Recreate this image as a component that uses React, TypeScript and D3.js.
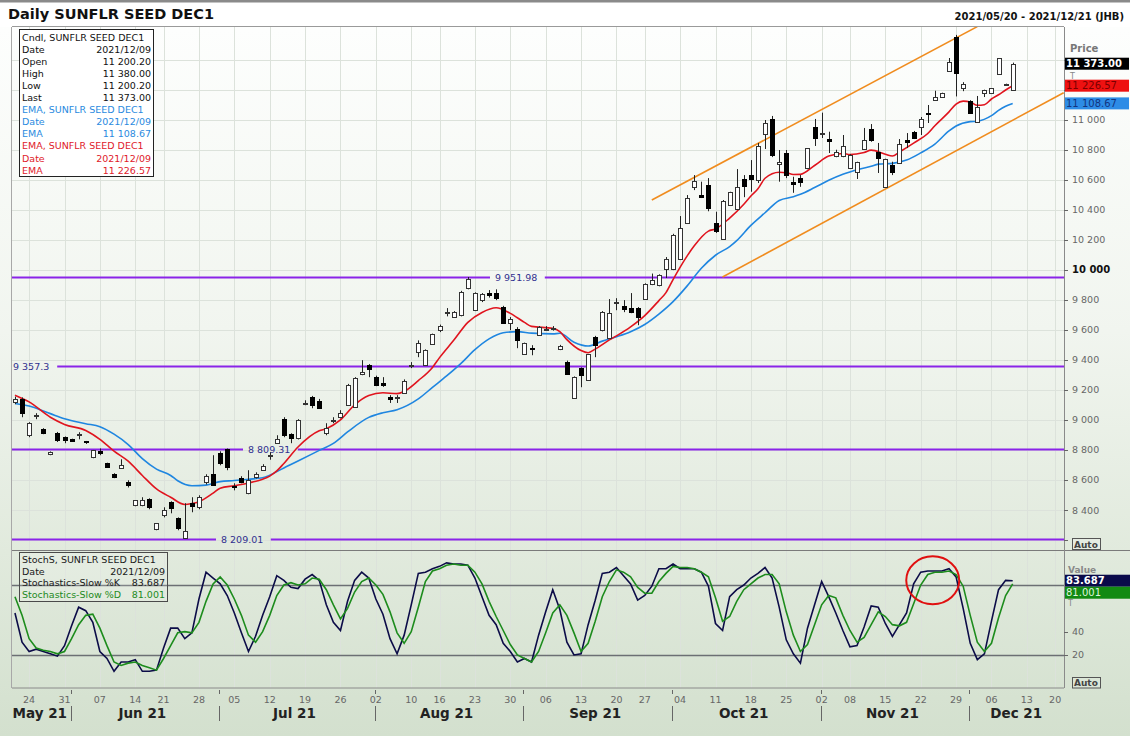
import React from 'react';
import * as d3 from 'd3';

// ---------- DATA ----------
const FIRST_DAY = '2021-05-20';
const AXIS_LAST_DAY = '2021-12-21';
const HOLIDAYS = ['2021-06-16', '2021-08-09', '2021-09-24', '2021-11-01', '2021-12-16'];
const LAST_DATE_LABEL = '2021/12/09';
const TITLE = 'Daily SUNFLR SEED DEC1';
const RANGE_LABEL = '2021/05/20 - 2021/12/21 (JHB)';

const opens = [
  9118, 9140, 8898, 9025, 8938, 8771, 8913, 8885, 8871, 8900,
  8860, 8751, 8791, 8711, 8638, 8678, 8585, 8431, 8431, 8471,
  8271, 8365, 8451, 8345, 8211, 8445, 8418, 8585, 8638, 8778,
  8805, 8560, 8611, 8511, 8618, 8665, 8760, 8845, 9005, 8905,
  8878, 9110, 9151, 9127, 8911, 8998, 9018, 9098, 9085, 9305,
  9365, 9287, 9245, 9151, 9145, 9180, 9360, 9451, 9365, 9505,
  9598, 9718, 9687, 9698, 9876, 9731, 9798, 9845, 9845, 9753,
  9645, 9605, 9438, 9480, 9565, 9605, 9610, 9471, 9387, 9149,
  9345, 9265, 9551, 9598, 9545, 9785, 9758, 9745, 9745, 9805,
  9905, 9898, 10005, 10005, 10071, 10311, 10553, 10498, 10565, 10311,
  10205, 10431, 10405, 10605, 10631, 10598, 10905, 11005, 10705, 10780,
  10587, 10611, 10678, 10951, 10905, 10871, 10758, 10758, 10678, 10653,
  10805, 10938, 10787, 10553, 10698, 10713, 10865, 10920, 10953, 11047,
  11131, 11151, 11327, 11551, 11211, 11125, 10985, 11180, 11180, 11305,
  11235, 11200.2,
];
const highs = [
  9155, 9150, 8985, 9045, 8945, 8790, 8920, 8890, 8875, 8918,
  8860, 8800, 8810, 8715, 8645, 8738, 8598, 8465, 8485, 8478,
  8311, 8418, 8458, 8351, 8445, 8485, 8498, 8638, 8765, 8791,
  8809.31, 8578, 8625, 8665, 8651, 8705, 8785, 8898, 9018, 8911,
  9005, 9131, 9160, 9140, 8978, 9018, 9065, 9240, 9285, 9398,
  9372, 9295, 9285, 9165, 9165, 9270, 9385, 9530, 9470, 9575,
  9635, 9745, 9725, 9860, 9951.98, 9850, 9845, 9865, 9870, 9760,
  9685, 9618, 9515, 9498, 9625, 9625, 9625, 9500, 9395, 9290,
  9350, 9438, 9560, 9725, 9805, 9811, 9798, 9845, 9752, 9910,
  9975, 9970, 10085, 10240, 10358, 10498, 10631, 10587, 10611, 10387,
  10465, 10520, 10671, 10631, 10731, 10845, 10998, 11025, 10798, 10798,
  10620, 10631, 10811, 11005, 11047, 10920, 10800, 10898, 10770, 10720,
  10945, 10971, 10845, 10740, 10720, 10871, 10911, 10925, 11018, 11098,
  11193, 11180, 11411, 11565, 11250, 11130, 11158, 11200, 11211, 11411,
  11240, 11380,
];
const lows = [
  9105, 9018, 8885, 9005, 8905, 8765, 8853, 8845, 8855, 8871,
  8840, 8745, 8765, 8680, 8612, 8675, 8550, 8425, 8425, 8405,
  8265, 8351, 8378, 8265, 8209.01, 8385, 8405, 8570, 8560, 8698,
  8665, 8531, 8578, 8505, 8610, 8660, 8735, 8840, 8885, 8845,
  8870, 9098, 9078, 9075, 8898, 8978, 9010, 9095, 9080, 9298,
  9285, 9225, 9220, 9113, 9113, 9175, 9345, 9418, 9360, 9500,
  9585, 9690, 9680, 9690, 9870, 9725, 9785, 9815, 9798, 9640,
  9598, 9478, 9435, 9431, 9560, 9595, 9595, 9465, 9305, 9140,
  9218, 9260, 9418, 9590, 9540, 9731, 9718, 9711, 9631, 9800,
  9898, 9890, 9945, 9998, 10065, 10305, 10531, 10478, 10390, 10245,
  10200, 10425, 10400, 10484, 10520, 10578, 10805, 10751, 10587, 10611,
  10513, 10553, 10670, 10825, 10878, 10778, 10750, 10750, 10675, 10605,
  10800, 10853, 10645, 10550, 10631, 10710, 10811, 10871, 10898, 10978,
  11125, 11145, 11318, 11155, 11190, 11047, 10980, 11151, 11178, 11300,
  11232, 11200.2,
];
const closes = [
  9140, 9045, 8978, 9030, 8911, 8785, 8865, 8865, 8858, 8905,
  8858, 8798, 8778, 8685, 8618, 8698, 8565, 8465, 8465, 8418,
  8311, 8398, 8411, 8278, 8260, 8425, 8485, 8625, 8565, 8711,
  8685, 8558, 8585, 8598, 8638, 8691, 8765, 8871, 8898, 8878,
  8998, 9113, 9098, 9078, 8945, 9000, 9045, 9231, 9278, 9320,
  9338, 9231, 9231, 9138, 9150, 9260, 9365, 9511, 9465, 9571,
  9625, 9722, 9720, 9853, 9940, 9845, 9838, 9831, 9811, 9643,
  9671, 9531, 9513, 9478, 9618, 9608, 9612, 9491, 9309, 9287,
  9298, 9438, 9498, 9720, 9711, 9787, 9738, 9720, 9685, 9905,
  9931, 9965, 10071, 10231, 10278, 10478, 10593, 10484, 10411, 10260,
  10460, 10520, 10553, 10558, 10605, 10825, 10978, 10765, 10720, 10631,
  10571, 10587, 10811, 10878, 10911, 10858, 10787, 10825, 10765, 10720,
  10865, 10865, 10745, 10738, 10653, 10838, 10853, 10878, 11005, 11038,
  11151, 11178, 11385, 11313, 11238, 11047, 11087, 11198, 11211, 11411,
  11238, 11373,
];

// EMA readings [trading-day index, value]
const emaRed = [
  [0, 9165], [2, 9120], [5, 9018], [7, 8970], [10, 8930], [12, 8871], [14, 8792], [16, 8725],
  [18, 8630], [20, 8540], [22, 8485], [24, 8437], [25, 8443], [26, 8455], [28, 8512], [29, 8545],
  [31, 8562], [33, 8580], [35, 8605], [36, 8626], [37, 8660], [38, 8710], [40, 8820], [43, 8928],
  [44, 8942], [46, 9000], [48, 9100], [50, 9162], [52, 9181], [54, 9175], [55, 9190], [57, 9262],
  [59, 9350], [60, 9415], [62, 9530], [64, 9650], [66, 9716], [68, 9747], [70, 9710], [72, 9650],
  [73, 9623], [76, 9610], [77, 9588], [78, 9535], [80, 9462], [81, 9448], [82, 9472], [84, 9533],
  [85, 9560], [87, 9620], [89, 9695], [91, 9795], [92, 9848], [93, 9935], [95, 10093], [96, 10160],
  [98, 10258], [99, 10272], [101, 10345], [103, 10437], [104, 10492], [105, 10540], [106, 10610],
  [108, 10650], [109, 10647], [110, 10635], [111, 10636], [113, 10695], [115, 10758], [117, 10775],
  [118, 10768], [120, 10782], [121, 10797], [123, 10770], [124, 10758], [125, 10785], [127, 10844],
  [129, 10908], [130, 10960], [132, 11052], [133, 11104], [134, 11124], [135, 11118], [136, 11096],
  [137, 11100], [138, 11138], [139, 11166], [140, 11198], [141, 11226.57],
];
const emaBlue = [
  [0, 9110], [2, 9093], [5, 9042], [7, 9008], [10, 8975], [12, 8955], [14, 8905], [16, 8836],
  [18, 8742], [20, 8672], [22, 8630], [23, 8595], [25, 8562], [27, 8566], [29, 8589], [31, 8596],
  [33, 8605], [35, 8615], [38, 8680], [40, 8726], [43, 8797], [45, 8844], [47, 8920], [50, 9017],
  [52, 9048], [54, 9068], [57, 9140], [59, 9217], [61, 9293], [63, 9375], [65, 9468], [67, 9540],
  [69, 9581], [71, 9588], [73, 9578], [76, 9573], [77, 9577], [79, 9518], [81, 9492], [83, 9525],
  [85, 9554], [87, 9588], [89, 9636], [91, 9705], [93, 9788], [95, 9893], [97, 10010], [99, 10097],
  [101, 10155], [102, 10195], [104, 10296], [106, 10380], [108, 10462], [110, 10487], [111, 10503],
  [113, 10548], [115, 10596], [117, 10636], [119, 10666], [121, 10690], [122, 10704], [124, 10709],
  [126, 10731], [128, 10779], [130, 10838], [132, 10925], [133, 10958], [135, 10987], [136, 10990],
  [138, 11027], [139, 11062], [140, 11090], [141, 11108.67],
];

const stochK = [
  56, 31, 23, 25, 23, 21, 19, 28, 45, 61,
  58, 48, 23, 17, 6, 14, 14, 16, 6, 6,
  7, 26, 43, 43, 34, 39, 68, 91, 86, 81,
  71, 56, 39, 23, 36, 54, 70, 88, 84, 78,
  77, 85, 89, 84, 63, 48, 41, 66, 84, 91,
  86, 68, 55, 34, 21, 37, 63, 90, 91, 94,
  96, 99, 98, 98, 97, 86, 70, 54, 46, 30,
  23, 14, 17, 14, 37, 57, 76, 59, 31, 20,
  21, 46, 67, 90, 91, 95, 88, 81, 67, 71,
  79, 94, 94, 98, 94, 94, 94, 91, 79, 47,
  41, 70, 76, 80, 86, 90, 95, 86, 61, 33,
  21, 13, 43, 63, 83, 70, 56, 41, 27, 28,
  44, 62, 61, 47, 36, 46, 56, 81, 91, 92,
  92, 92, 94, 87, 60, 30, 16, 21, 49, 76,
  84, 83.687,
];
const stochD = [
  70, 54, 34, 26, 24, 23, 21, 23, 34, 46,
  54, 55, 43, 28, 14, 11, 13, 14, 11, 9,
  7, 17, 28, 39, 40, 39, 48, 66, 81, 87,
  80, 68, 54, 37, 31, 40, 54, 71, 80, 82,
  80, 81, 86, 85, 76, 63, 51, 60, 74, 83,
  86, 80, 72, 57, 39, 30, 40, 61, 83, 92,
  94, 97, 98, 97, 97, 91, 81, 66, 53, 41,
  29, 20, 17, 14, 23, 39, 56, 63, 54, 39,
  23, 30, 49, 70, 83, 93, 91, 87, 78, 73,
  73, 83, 90, 96, 95, 95, 94, 91, 87, 69,
  49, 53, 66, 76, 81, 86, 89, 89, 81, 57,
  37, 23, 29, 46, 63, 71, 69, 54, 41, 31,
  35, 46, 57, 53, 46, 45, 48, 64, 80, 89,
  91, 91, 92, 89, 79, 54, 31, 23, 30, 52,
  71, 81.001,
];

const levels = [9951.98, 9357.3, 8809.31, 8209.01];
const channelUpper = [[90, 10465], [136, 11620]];
const channelLower = [[100, 9951.98], [148.2, 11180]];
const priceTicks = [8200, 8400, 8600, 8800, 9000, 9200, 9400, 9600, 9800, 10000, 10200, 10400, 10600, 10800, 11000, 11200, 11400];
const priceLabelMax = 11000; // labels above are hidden by value boxes
const stochTicks = [20, 40];
const stochBands = [20, 80];
const circleNote = { index: 129.7, value: 84 };

// ---------- LAYOUT / STYLE ----------
const FONT = "'DejaVu Sans', Verdana, sans-serif";
const L = 12, R = 1064;
const P_TOP = 27, P_BOT = 550.5;
const S_TOP = 550.5, S_BOT = 688;
const levelLabelX = [495, 13, 248, 221];

const fmtSpace = (s: string) => s.replace(/,/g, ' ');
const f2 = (v: number) => fmtSpace(d3.format(',.2f')(v));
const fLevel = (v: number) => {
  const [a, b] = String(v).split('.');
  return a.replace(/\B(?=(\d{3})+(?!\d))/g, ' ') + (b ? '.' + b : '');
};

function tradingDays() {
  const p = d3.utcParse('%Y-%m-%d');
  const f = d3.utcFormat('%Y-%m-%d');
  const start = p(FIRST_DAY)!;
  const end = d3.utcDay.offset(p(AXIS_LAST_DAY)!, 1);
  return d3.utcDay.range(start, end).filter(d => d.getUTCDay() % 6 !== 0 && !HOLIDAYS.includes(f(d)));
}

export default function App() {
  const days = tradingDays();
  const x = d3.scaleLinear().domain([-0.42, 148.25]).range([L, R]);
  const y = d3.scaleLinear().domain([8400, 11000]).range([510, 119.7]);
  const ys = d3.scaleLinear().domain([0, 100]).range([678.3, 561.7]);

  const weekTicks: { i: number; label: string }[] = [];
  const monthStarts: number[] = [];
  days.forEach((d, i) => {
    if (i === 0) return;
    if (+d3.utcMonday.floor(d) !== +d3.utcMonday.floor(days[i - 1])) weekTicks.push({ i, label: d3.utcFormat('%d')(d) });
    if (d.getUTCMonth() !== days[i - 1].getUTCMonth()) monthStarts.push(i);
  });
  const groups = d3.groups(days.map((d, i) => ({ d, i })), o => d3.utcFormat('%b %y')(o.d));
  const monthLabels = groups.map(([label, arr]) => ({ label, c: (x(arr[0].i) + x(arr[arr.length - 1].i)) / 2 }));

  const lineP = d3.line<number[]>().x(d => x(d[0])).y(d => y(d[1])).curve(d3.curveMonotoneX);
  const lineStraight = d3.line<number[]>().x(d => x(d[0])).y(d => y(d[1]));
  const lineK = d3.line<number>().x((_, i) => x(i)).y(d => ys(d));

  const legendRows = [
    { l: 'Cndl, SUNFLR SEED DEC1', r: '', c: '#111' },
    { l: 'Date', r: LAST_DATE_LABEL, c: '#111' },
    { l: 'Open', r: f2(opens[opens.length - 1]), c: '#111' },
    { l: 'High', r: f2(highs[highs.length - 1]), c: '#111' },
    { l: 'Low', r: f2(lows[lows.length - 1]), c: '#111' },
    { l: 'Last', r: f2(closes[closes.length - 1]), c: '#111' },
    { l: 'EMA, SUNFLR SEED DEC1', r: '', c: '#2a8ae0' },
    { l: 'Date', r: LAST_DATE_LABEL, c: '#2a8ae0' },
    { l: 'EMA', r: f2(emaBlue[emaBlue.length - 1][1]), c: '#2a8ae0' },
    { l: 'EMA, SUNFLR SEED DEC1', r: '', c: '#e0202a' },
    { l: 'Date', r: LAST_DATE_LABEL, c: '#e0202a' },
    { l: 'EMA', r: f2(emaRed[emaRed.length - 1][1]), c: '#e0202a' },
  ];
  const stochRows = [
    { l: 'StochS, SUNFLR SEED DEC1', r: '', c: '#1a1a1a' },
    { l: 'Date', r: LAST_DATE_LABEL, c: '#1a1a1a' },
    { l: 'Stochastics-Slow %K', r: String(stochK[stochK.length - 1]), c: '#1a1a1a' },
    { l: 'Stochastics-Slow %D', r: String(stochD[stochD.length - 1]), c: '#1d8a1d' },
  ];

  const lastClose = closes[closes.length - 1];
  const lastRed = emaRed[emaRed.length - 1][1];
  const lastBlue = emaBlue[emaBlue.length - 1][1];
  const lastK = stochK[stochK.length - 1];
  const lastD = stochD[stochD.length - 1];

  return (
    <div style={{ position: 'fixed', left: 0, top: 0 }}>
      <svg width={1130} height={736} style={{ display: 'block' }} fontFamily={FONT}>
        <defs>
          <linearGradient id="bg" x1="0" y1="0" x2="0" y2="1">
            <stop offset="0" stopColor="#ffffff" />
            <stop offset="0.04" stopColor="#fdfefd" />
            <stop offset="0.45" stopColor="#f1f5ef" />
            <stop offset="0.75" stopColor="#e1eadd" />
            <stop offset="1" stopColor="#d3e0ce" />
          </linearGradient>
          <clipPath id="cp"><rect x={L} y={P_TOP} width={R - L} height={P_BOT - P_TOP} /></clipPath>
          <clipPath id="cs"><rect x={L} y={S_TOP} width={R - L} height={S_BOT - S_TOP} /></clipPath>
        </defs>
        <rect x={0} y={0} width={1130} height={736} fill="url(#bg)" />
        <rect x={0} y={0} width={1130} height={P_TOP} fill="#ffffff" />
        <rect x={0} y={0} width={1130} height={2.5} fill="#8a8a8a" />

        <text x={8} y={18.5} fontSize={14.5} fontWeight="bold" fill="#111">{TITLE}</text>
        <text x={1124} y={19.5} fontSize={10} fontWeight="bold" fill="#111" textAnchor="end">{RANGE_LABEL}</text>

        {/* grid */}
        <g stroke="#dce2db" strokeWidth={1}>
          {weekTicks.map(t => (
            <line key={'vg' + t.i} x1={Math.round(x(t.i)) + 0.5} x2={Math.round(x(t.i)) + 0.5} y1={P_TOP} y2={S_BOT} />
          ))}
          {priceTicks.filter(p => y(p) > P_TOP && y(p) < P_BOT - 4).map(p => (
            <line key={'hg' + p} x1={L} x2={R} y1={Math.round(y(p)) + 0.5} y2={Math.round(y(p)) + 0.5} />
          ))}
        </g>

        {/* frames */}
        <line x1={L} x2={R} y1={P_TOP - 0.5} y2={P_TOP - 0.5} stroke="#9a9a9a" />
        <line x1={L - 0.5} x2={L - 0.5} y1={P_TOP} y2={S_BOT} stroke="#a8a8a8" />
        <line x1={L} x2={1130} y1={S_TOP} y2={S_TOP} stroke="#7a7a7a" />
        <line x1={L} x2={R} y1={S_BOT} y2={S_BOT} stroke="#8a8a8a" />
        <line x1={R + 0.5} x2={R + 0.5} y1={P_TOP} y2={S_BOT} stroke="#8a8a8a" />

        {/* price panel */}
        <g clipPath="url(#cp)">
          {levels.map((lv, k) => {
            const yy = Math.round(y(lv)) + 0.5;
            const lx = levelLabelX[k];
            const label = fLevel(lv);
            const w = label.length * 5.6;
            return (
              <g key={'lv' + k}>
                {lx > L + 2 && <line x1={L} x2={lx - 5} y1={yy} y2={yy} stroke="#8a24e8" strokeWidth={2} />}
                <line x1={lx + w + 5} x2={R} y1={yy} y2={yy} stroke="#8a24e8" strokeWidth={2} />
                <text x={lx} y={yy + 3.5} fontSize={9.5} fill="#30308f">{label}</text>
              </g>
            );
          })}
          <path d={lineStraight(channelUpper)!} stroke="#f08c1e" strokeWidth={1.6} fill="none" />
          <path d={lineStraight(channelLower)!} stroke="#f08c1e" strokeWidth={1.6} fill="none" />
          <path d={lineP(emaBlue)!} stroke="#1f86e0" strokeWidth={1.6} fill="none" />
          <path d={lineP(emaRed)!} stroke="#e0141e" strokeWidth={1.6} fill="none" />
          {opens.map((o, i) => {
            const c = closes[i];
            const cx = Math.round(x(i));
            const up = c >= o;
            const yt = Math.round(y(Math.max(o, c)));
            const yb = Math.round(y(Math.min(o, c)));
            const h = Math.max(1, yb - yt);
            return (
              <g key={'c' + i}>
                <line x1={cx + 0.5} x2={cx + 0.5} y1={y(highs[i])} y2={y(lows[i])} stroke="#222" strokeWidth={1} />
                <rect x={cx - 1.5} y={yt + 0.5} width={4} height={h} fill={up ? '#ffffff' : '#000000'} stroke={up ? '#333' : '#000'} strokeWidth={1} />
              </g>
            );
          })}
        </g>

        {/* legend box */}
        <rect x={19.5} y={29.5} width={134} height={147} fill="#ffffff" stroke="#222" />
        {legendRows.map((r, k) => (
          <g key={'lg' + k} fill={r.c} fontSize={9.5}>
            <text x={22} y={40.5 + k * 12.1}>{r.l}</text>
            {r.r && <text x={151} y={40.5 + k * 12.1} textAnchor="end">{r.r}</text>}
          </g>
        ))}

        {/* stochastic panel */}
        <g clipPath="url(#cs)">
          {stochBands.map(v => (
            <line key={'sb' + v} x1={L} x2={R} y1={Math.round(ys(v)) + 0.5} y2={Math.round(ys(v)) + 0.5} stroke="#6c6f74" strokeWidth={1.3} />
          ))}
          <path d={lineK(stochK)!} stroke="#0c0c48" strokeWidth={1.6} fill="none" />
          <path d={lineK(stochD)!} stroke="#1d8c1d" strokeWidth={1.6} fill="none" />
          <ellipse cx={x(circleNote.index)} cy={ys(circleNote.value)} rx={26.5} ry={24} fill="none" stroke="#e01010" strokeWidth={2} />
        </g>
        <rect x={19.5} y={552.5} width={148} height={49} fill="#ffffff" fillOpacity={0.15} stroke="#4a4a4a" />
        {stochRows.map((r, k) => (
          <g key={'sl' + k} fill={r.c} fontSize={9.5}>
            <text x={22} y={563 + k * 11.7}>{r.l}</text>
            {r.r && <text x={165} y={563 + k * 11.7} textAnchor="end">{r.r}</text>}
          </g>
        ))}

        {/* right price axis */}
        <text x={1070} y={52} fontSize={10} fontWeight="bold" fill="#777">Price</text>
        {priceTicks.map(p => {
          const yy = y(p);
          if (yy < P_TOP || yy > P_BOT) return null;
          const bold = p === 10000;
          return (
            <g key={'pt' + p}>
              <line x1={R} x2={R + 4} y1={Math.round(yy) + 0.5} y2={Math.round(yy) + 0.5} stroke="#666" />
              {p > 8300 && p <= priceLabelMax && (
                <text x={1072} y={yy + 3.5} fontSize={bold ? 10 : 9.5} fontWeight={bold ? 'bold' : 'normal'} fill={bold ? '#111' : '#666'}>{fLevel(p)}</text>
              )}
            </g>
          );
        })}
        <rect x={1065} y={y(lastClose) - 6} width={64} height={12} fill="#000" />
        <text x={1066} y={y(lastClose) + 3.6} fontSize={10} fontWeight="bold" fill="#fff">{f2(lastClose)}</text>
        <text x={1070} y={79} fontSize={8} fill="#888">T</text>
        <rect x={1065} y={y(lastRed) - 6} width={64} height={12} fill="#ee1111" />
        <text x={1066} y={y(lastRed) + 3.6} fontSize={10} fill="#7a0000">{f2(lastRed)}</text>
        <rect x={1065} y={y(lastBlue) - 6} width={64} height={12} fill="#2d8ce6" />
        <text x={1066} y={y(lastBlue) + 3.6} fontSize={10} fill="#13337f">{f2(lastBlue)}</text>
        <rect x={1072.5} y={538.5} width={28} height={11} fill="#e6ece3" stroke="#555" />
        <text x={1074} y={547.5} fontSize={9} fontWeight="bold" fill="#444">Auto</text>

        {/* stochastic axis */}
        <text x={1068} y={572.5} fontSize={9} fontWeight="bold" fill="#888">Value</text>
        {stochTicks.map(v => (
          <g key={'st' + v}>
            <line x1={R} x2={R + 4} y1={Math.round(ys(v)) + 0.5} y2={Math.round(ys(v)) + 0.5} stroke="#666" />
            <text x={1072} y={ys(v) + 3.5} fontSize={9.5} fill="#666">{v}</text>
          </g>
        ))}
        <rect x={1065} y={ys(lastK) - 6} width={65} height={12} fill="#0a0a4a" />
        <text x={1066} y={ys(lastK) + 3.6} fontSize={10} fontWeight="bold" fill="#fff">{lastK.toFixed(3)}</text>
        <rect x={1065} y={ys(lastK) + 6} width={65} height={12} fill="#128a12" />
        <text x={1066} y={ys(lastK) + 15.6} fontSize={10} fill="#dff5df">{lastD.toFixed(3)}</text>
        <text x={1068} y={606} fontSize={8} fill="#888">T</text>
        <rect x={1072.5} y={677.5} width={28} height={10.5} fill="#dbe6d7" stroke="#555" />
        <text x={1074} y={686} fontSize={9} fontWeight="bold" fill="#444">Auto</text>

        {/* time axis */}
        {weekTicks.map(t => (
          <text key={'wt' + t.i} x={x(t.i)} y={703} fontSize={9.5} fill="#666" textAnchor="middle">{t.label}</text>
        ))}
        {monthStarts.map(i => (
          <g key={'ms' + i} stroke="#666">
            <line x1={Math.round(x(i)) - 0.5} x2={Math.round(x(i)) - 0.5} y1={690} y2={694} />
            <line x1={Math.round(x(i)) - 0.5} x2={Math.round(x(i)) - 0.5} y1={706} y2={721} />
          </g>
        ))}
        {monthLabels.map(m => (
          <text key={'ml' + m.label} x={m.c} y={718} fontSize={13.5} fontWeight="bold" fill="#222" textAnchor="middle">{m.label}</text>
        ))}
      </svg>
    </div>
  );
}
